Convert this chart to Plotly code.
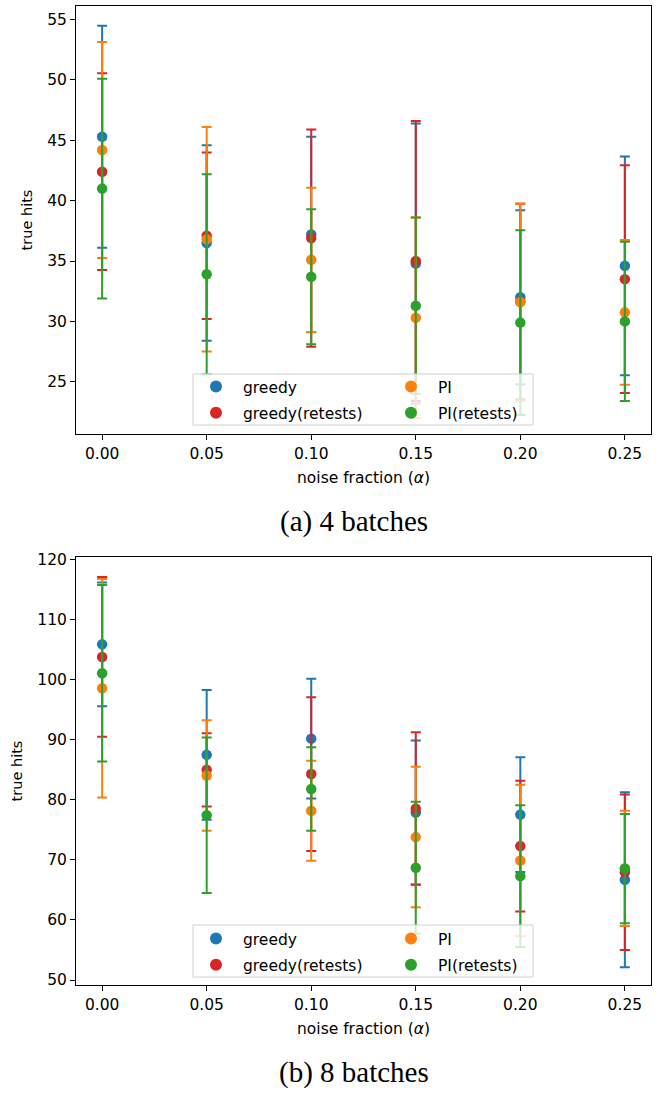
import plotly.graph_objects as go

# ---------------- data ----------------
alpha = [0.00, 0.05, 0.10, 0.15, 0.20, 0.25]
series_names = ["greedy", "greedy(retests)", "PI", "PI(retests)"]
colors = ["#1f77b4", "#d62728", "#ff7f0e", "#2ca02c"]

# (a) 4 batches
a_greedy = [45.3, 36.5, 37.2, 34.8, 32.0, 34.6]
a_greedy_err = [9.2, 8.1, 8.1, 11.6, 7.2, 9.06]
a_greedy_rt = [42.4, 37.1, 36.9, 35.0, 31.65, 33.5]
a_greedy_rt_err = [8.15, 6.9, 9.0, 11.6, 8.1, 9.44]
a_pi = [44.2, 36.8, 35.1, 30.3, 31.6, 30.75]
a_pi_err = [8.95, 9.3, 5.97, 8.3, 8.17, 6.0]
a_pi_rt = [41.0, 33.9, 33.7, 31.3, 29.9, 30.0]
a_pi_rt_err = [9.1, 8.3, 5.6, 7.3, 7.65, 6.6]

# (b) 8 batches
b_greedy = [105.9, 87.5, 90.2, 77.9, 77.55, 66.7]
b_greedy_err = [10.3, 10.8, 9.97, 12.0, 9.56, 14.56]
b_greedy_rt = [103.8, 85.0, 84.3, 78.55, 72.3, 67.95]
b_greedy_rt_err = [13.3, 6.1, 12.8, 12.7, 10.9, 12.95]
b_pi = [98.6, 84.05, 78.2, 73.8, 69.9, 68.6]
b_pi_err = [18.2, 9.2, 8.33, 11.7, 12.6, 9.6]
b_pi_rt = [101.1, 77.45, 81.8, 68.7, 67.3, 68.55]
b_pi_rt_err = [14.7, 12.95, 6.95, 11.0, 11.8, 9.1]

panel_a = [(a_greedy, a_greedy_err), (a_greedy_rt, a_greedy_rt_err),
           (a_pi, a_pi_err), (a_pi_rt, a_pi_rt_err)]
panel_b = [(b_greedy, b_greedy_err), (b_greedy_rt, b_greedy_rt_err),
           (b_pi, b_pi_err), (b_pi_rt, b_pi_rt_err)]

x_ticks = [0.00, 0.05, 0.10, 0.15, 0.20, 0.25]
a_yticks = [25, 30, 35, 40, 45, 50, 55]
b_yticks = [50, 60, 70, 80, 90, 100, 110, 120]

captions = ["(a) 4 batches", "(b) 8 batches"]

# ---------------- figure ----------------
W, H = 666, 1097
ML, MR, MT, MB = 76, 15, 6, 112
PW, PH = W - ML - MR, H - MT - MB
FONT = "DejaVu Sans"
TS = 15.5


def px_x(p):
    return (p - ML) / PW


def px_y(p):
    return (H - MB - p) / PH


# legend column assignment: greedy & greedy(retests) left column, PI & PI(retests) right
col_of = [0, 0, 1, 1]
legend_ids = [["legend", "legend2"], ["legend3", "legend4"]]

fig = go.Figure()
for pi, (panel, xa, ya) in enumerate(zip([panel_a, panel_b], ["x", "x2"], ["y", "y2"])):
    for i, (vals, errs) in enumerate(panel):
        fig.add_trace(go.Scatter(
            x=alpha, y=vals, mode="markers", name=series_names[i],
            xaxis=xa, yaxis=ya, legend=legend_ids[pi][col_of[i]],
            legendgroup=f"p{pi}s{i}",
            marker=dict(color=colors[i], size=10.5, line=dict(width=0)),
            error_y=dict(type="data", array=errs, visible=True,
                         color=colors[i], thickness=2, width=5),
        ))

axis_common = dict(
    showline=True, linecolor="black", linewidth=1, mirror=True,
    ticks="outside", ticklen=5, tickwidth=1, tickcolor="black",
    showgrid=False, zeroline=False, automargin=False,
    tickfont=dict(family=FONT, size=TS, color="black"),
)

xtitle = dict(text="noise fraction (<i>α</i>)", standoff=10, font=dict(family=FONT, size=TS))
ytitle = dict(text="true hits", standoff=11, font=dict(family=FONT, size=14.5))

leg_common = dict(orientation="v", bgcolor="rgba(0,0,0,0)", borderwidth=0,
                  font=dict(family=FONT, size=TS), traceorder="grouped",
                  tracegroupgap=3, xanchor="left", yanchor="top",
                  itemsizing="constant", itemwidth=44)

top_a, bot_a = 374, 425
top_b, bot_b = 925, 977
box_l, box_r = 193, 533
col_x = [px_x(189), px_x(384)]

fig.update_layout(
    width=W, height=H,
    margin=dict(l=ML, r=MR, t=MT, b=MB, autoexpand=False),
    paper_bgcolor="white", plot_bgcolor="white",
    font=dict(family=FONT, color="black"),
    showlegend=True,
    xaxis=dict(domain=[0, 1], anchor="y", range=[-0.0125, 0.2625],
               tickvals=x_ticks, tickformat=".2f", title=xtitle, **axis_common),
    yaxis=dict(domain=[px_y(434), 1], anchor="x", range=[20.67, 56.13],
               tickvals=a_yticks, title=ytitle, **axis_common),
    xaxis2=dict(domain=[0, 1], anchor="y2", range=[-0.0125, 0.2625],
                tickvals=x_ticks, tickformat=".2f", title=xtitle, **axis_common),
    yaxis2=dict(domain=[0, px_y(557)], anchor="x2", range=[49.17, 120.45],
                tickvals=b_yticks, title=ytitle, **axis_common),
    legend=dict(x=col_x[0], y=px_y(top_a - 4), **leg_common),
    legend2=dict(x=col_x[1], y=px_y(top_a - 4), **leg_common),
    legend3=dict(x=col_x[0], y=px_y(top_b - 3), **leg_common),
    legend4=dict(x=col_x[1], y=px_y(top_b - 3), **leg_common),
)

# legend frames (semi-transparent like matplotlib's framealpha=0.8)
for t, b in [(top_a, bot_a), (top_b, bot_b)]:
    fig.add_shape(type="rect", xref="paper", yref="paper",
                  x0=px_x(box_l), x1=px_x(box_r), y0=px_y(b), y1=px_y(t),
                  fillcolor="rgba(255,255,255,0.8)",
                  line=dict(color="#d0d0d0", width=1), layer="above")

cap_y = [px_y(521), px_y(1072)]
for txt, cy in zip(captions, cap_y):
    fig.add_annotation(text=txt, x=px_x(354), y=cy, xref="paper", yref="paper",
                       showarrow=False, xanchor="center", yanchor="middle",
                       font=dict(family="Liberation Serif", size=29, color="black"))

fig.write_html("out.html", config={"displayModeBar": False},
               post_script="document.body.style.margin='0px';document.body.style.overflow='hidden';")
